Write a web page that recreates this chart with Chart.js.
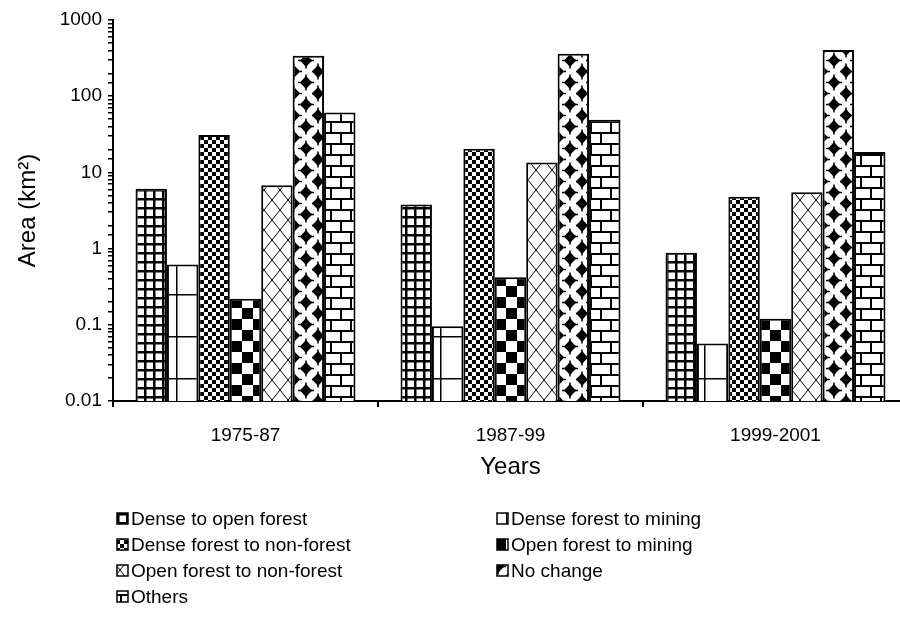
<!DOCTYPE html>
<html>
<head>
<meta charset="utf-8">
<script src="https://cdn.jsdelivr.net/npm/chart.js@4/dist/chart.umd.min.js"></script>
<style>
  html, body { margin: 0; padding: 0; background: #fff; overflow: hidden; }
  #wrap { width: 908px; height: 630px; }
</style>
</head>
<body>
<div id="wrap"><canvas id="c" width="908" height="630"></canvas></div>
<script>
// ---- data ----
const categories = ['1975-87', '1987-99', '1999-2001'];
const seriesNames = [
  'Dense to open forest',
  'Dense forest to mining',
  'Dense forest to non-forest',
  'Open forest to mining',
  'Open forest to non-forest',
  'No change',
  'Others'
];
const denseToOpen = [6.1, 3.8, 0.88];
const denseToMining = [0.62, 0.096, 0.057];
const denseToNonForest = [31, 20.5, 4.8];
const openToMining = [0.22, 0.42, 0.12];
const openToNonForest = [6.8, 13.5, 5.5];
const noChange = [340, 360, 405];
const others = [61, 49, 18.5];
const yMajorTicks = [0.01, 0.1, 1, 10, 100, 1000];

const seriesValues = [denseToOpen, denseToMining, denseToNonForest, openToMining, openToNonForest, noChange, others];

// ---- patterns ----
function tile(w, h, draw) {
  const c = document.createElement('canvas');
  c.width = w; c.height = h;
  const g = c.getContext('2d');
  g.fillStyle = '#fff'; g.fillRect(0, 0, w, h);
  g.fillStyle = '#000'; g.strokeStyle = '#000';
  draw(g, w, h);
  return document.getElementById('c').getContext('2d').createPattern(c, 'repeat');
}
const patterns = [
  // small grid
  tile(9, 9, (g) => { g.fillRect(0, 0, 9, 2.5); g.fillRect(0, 0, 2.5, 9); }),
  // large grid thin
  tile(22, 42, (g) => { g.fillRect(0, 0, 22, 1.5); g.fillRect(0, 0, 1.5, 42); }),
  // small checker
  tile(8, 8, (g) => { g.fillRect(0, 0, 4, 4); g.fillRect(4, 4, 4, 4); }),
  // large checker
  tile(22, 22, (g) => { g.fillRect(0, 0, 11, 11); g.fillRect(11, 11, 11, 11); }),
  // diagonal lattice
  tile(16, 20, (g, w, h) => {
    g.lineWidth = 1;
    g.beginPath();
    g.moveTo(0, 0); g.lineTo(w, h);
    g.moveTo(w, 0); g.lineTo(0, h);
    g.stroke();
  }),
  // diamonds
  tile(24, 22, (g) => {
    function dia(cx, cy) {
      g.beginPath();
      g.moveTo(cx, cy - 6.5); g.lineTo(cx + 6, cy); g.lineTo(cx, cy + 6.5); g.lineTo(cx - 6, cy);
      g.closePath(); g.fill();
      g.fillRect(cx - 8, cy - 0.75, 16, 1.5);
      g.fillRect(cx - 0.75, cy - 8, 1.5, 16);
    }
    dia(6, 5.5); dia(18, 16.5); dia(30, 16.5); dia(-6, 16.5); dia(6, 27.5); dia(18, -5.5);
  }),
  // bricks
  tile(20, 22, (g) => {
    g.fillRect(0, 0, 20, 2); g.fillRect(0, 11, 20, 2);
    g.fillRect(0, 0, 2, 11); g.fillRect(10, 11, 2, 11);
  })
];

const datasets = seriesNames.map((name, i) => ({
  label: name,
  data: seriesValues[i],
  backgroundColor: patterns[i],
  borderColor: '#000',
  borderWidth: 2,
  borderSkipped: 'bottom'
}));

const legendPlugin = {
  id: 'gridLegend',
  afterDraw(chart) {
    const ctx = chart.ctx;
    ctx.save();
    ctx.font = '19px "Liberation Sans", Arial, sans-serif';
    ctx.textBaseline = 'middle';
    ctx.fillStyle = '#000';
    chart.data.datasets.forEach((ds, i) => {
      const col = i % 2, row = Math.floor(i / 2);
      const x = col === 0 ? 117 : 497;
      const y = 519 + row * 26;
      ctx.fillStyle = ds.backgroundColor;
      ctx.fillRect(x, y - 6, 11, 11);
      ctx.strokeStyle = '#000';
      ctx.lineWidth = 1.5;
      ctx.strokeRect(x, y - 6, 11, 11);
      ctx.fillStyle = '#000';
      ctx.fillText(ds.label, x + 14, y + 1);
    });
    ctx.restore();
  }
};

Chart.defaults.color = '#000';
Chart.defaults.font.family = '"Liberation Sans", Arial, sans-serif';

new Chart(document.getElementById('c'), {
  type: 'bar',
  data: { labels: categories, datasets },
  options: {
    responsive: false,
    animation: false,
    layout: { padding: { top: 20, right: 0, left: 0, bottom: 145 } },
    plugins: { legend: { display: false }, tooltip: { enabled: false } },
    datasets: { bar: { barPercentage: 1, categoryPercentage: 0.83 } },
    scales: {
      x: {
        grid: { offset: true, drawOnChartArea: false, drawTicks: true, tickLength: 6, color: '#000', lineWidth: 2 },
        border: { color: '#000', width: 2 },
        ticks: { font: { size: 19 }, padding: 17, maxRotation: 0 },
        title: { display: true, text: 'Years', font: { size: 24 }, padding: { top: 0, bottom: 3 } },
        afterFit(scale) { scale.height = 84; }
      },
      y: {
        type: 'logarithmic',
        min: 0.01,
        max: 1000,
        grid: { drawOnChartArea: false, drawTicks: true, tickLength: 5, color: '#000', lineWidth: 1.5 },
        border: { color: '#000', width: 2 },
        ticks: {
          autoSkip: false,
          font: { size: 19 },
          padding: 6,
          callback(v) {
            const l = Math.log10(v);
            if (Math.abs(l - Math.round(l)) < 1e-9) {
              const m = yMajorTicks.find(t => Math.abs(t - v) / t < 1e-9);
              return m !== undefined ? String(m) : '';
            }
            return '';
          }
        },
        title: { display: true, text: 'Area (km²)', font: { size: 24 }, padding: { top: 14, bottom: 0 } },
        afterFit(scale) { scale.width = 113; }
      }
    }
  },
  plugins: [legendPlugin]
});
</script>
</body>
</html>
